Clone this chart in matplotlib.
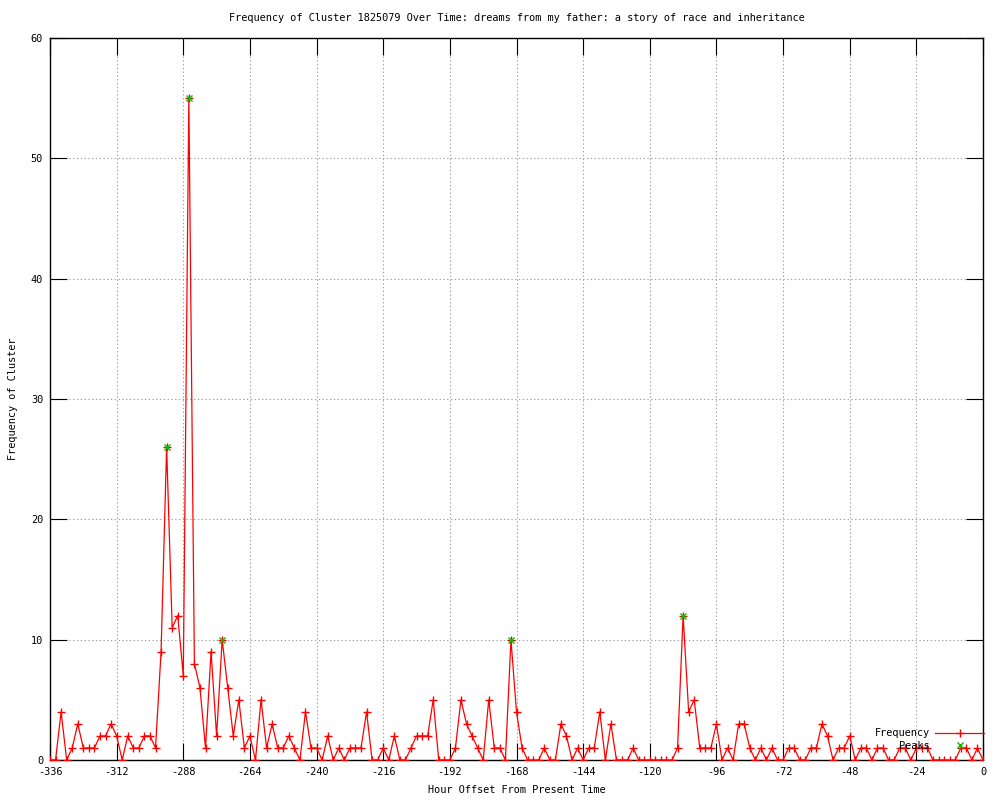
import numpy as np
import matplotlib
matplotlib.use("Agg")
import matplotlib.pyplot as plt

# hours before present, every 2 hours
hours = np.arange(-336, 1, 2)

freq = [
    0, 0, 4, 0, 1, 3, 1, 1, 1, 2, 2, 3,        # -336 .. -314
    2, 0, 2, 1, 1, 2, 2, 1, 9, 26, 11, 12,     # -312 .. -290
    7, 55, 8, 6, 1, 9, 2, 10, 6, 2, 5, 1,      # -288 .. -266
    2, 0, 5, 1, 3, 1, 1, 2, 1, 0, 4, 1,        # -264 .. -242
    1, 0, 2, 0, 1, 0, 1, 1, 1, 4, 0, 0,        # -240 .. -218
    1, 0, 2, 0, 0, 1, 2, 2, 2, 5, 0, 0,        # -216 .. -194
    0, 1, 5, 3, 2, 1, 0, 5, 1, 1, 0, 10,       # -192 .. -170
    4, 1, 0, 0, 0, 1, 0, 0, 3, 2, 0, 1,        # -168 .. -146
    0, 1, 1, 4, 0, 3, 0, 0, 0, 1, 0, 0,        # -144 .. -122
    0, 0, 0, 0, 0, 1, 12, 4, 5, 1, 1, 1,       # -120 .. -98
    3, 0, 1, 0, 3, 3, 1, 0, 1, 0, 1, 0,        # -96 .. -74
    0, 1, 1, 0, 0, 1, 1, 3, 2, 0, 1, 1,        # -72 .. -50
    2, 0, 1, 1, 0, 1, 1, 0, 0, 1, 1, 0,        # -48 .. -26
    1, 1, 1, 0, 0, 0, 0, 0, 1, 1, 0, 1,        # -24 .. -2
    0,                                         # 0
]

peak_hours = [-294, -286, -274, -170, -108]
peak_vals = [26, 55, 10, 10, 12]

x_ticks = list(range(-336, 1, 24))
y_ticks = list(range(0, 61, 10))

title = "Frequency of Cluster 1825079 Over Time: dreams from my father: a story of race and inheritance"

plt.rcParams['font.family'] = ['DejaVu Sans Mono']
plt.rcParams['axes.unicode_minus'] = False
fs = 7.4

fig = plt.figure(figsize=(10, 8), dpi=100)
ax = fig.add_axes([0.05, 0.05, 0.933, 0.9025])

ax.plot(hours, freq, color='#ff0000', lw=0.9, marker='+', ms=6, mew=1.0,
        label='Frequency', zorder=3)
ax.plot(peak_hours, peak_vals, ls='none', color='#00c000', marker='x', ms=5,
        mew=1.0, label='Peaks', zorder=4)

ax.set_xlim(-336, 0)
ax.set_ylim(0, 60)
ax.set_xticks(x_ticks)
ax.set_yticks(y_ticks)
ax.set_xticklabels([str(t) for t in x_ticks], fontsize=fs)
ax.set_yticklabels([str(t) for t in y_ticks], fontsize=fs)
ax.tick_params(direction='in', length=12, width=0.8, top=True, right=True,
               pad=5, colors='black')

ax.grid(True, color='#a0a0a0', linestyle=(0, (1.2, 2.2)), linewidth=0.8)
ax.set_axisbelow(True)
for s in ax.spines.values():
    s.set_linewidth(1.0)
    s.set_color('black')

ax.set_title(title, fontsize=fs, pad=12)
ax.set_xlabel('Hour Offset From Present Time', fontsize=fs, labelpad=6)
ax.set_ylabel('Frequency of Cluster', fontsize=fs, labelpad=9)

ax.legend(loc='lower right', bbox_to_anchor=(1.007, 0.006), frameon=False,
          markerfirst=False, fontsize=fs, borderpad=0, labelspacing=0.2,
          handlelength=4.8, handletextpad=0.5, numpoints=1)

fig.savefig('out.png', dpi=100)
